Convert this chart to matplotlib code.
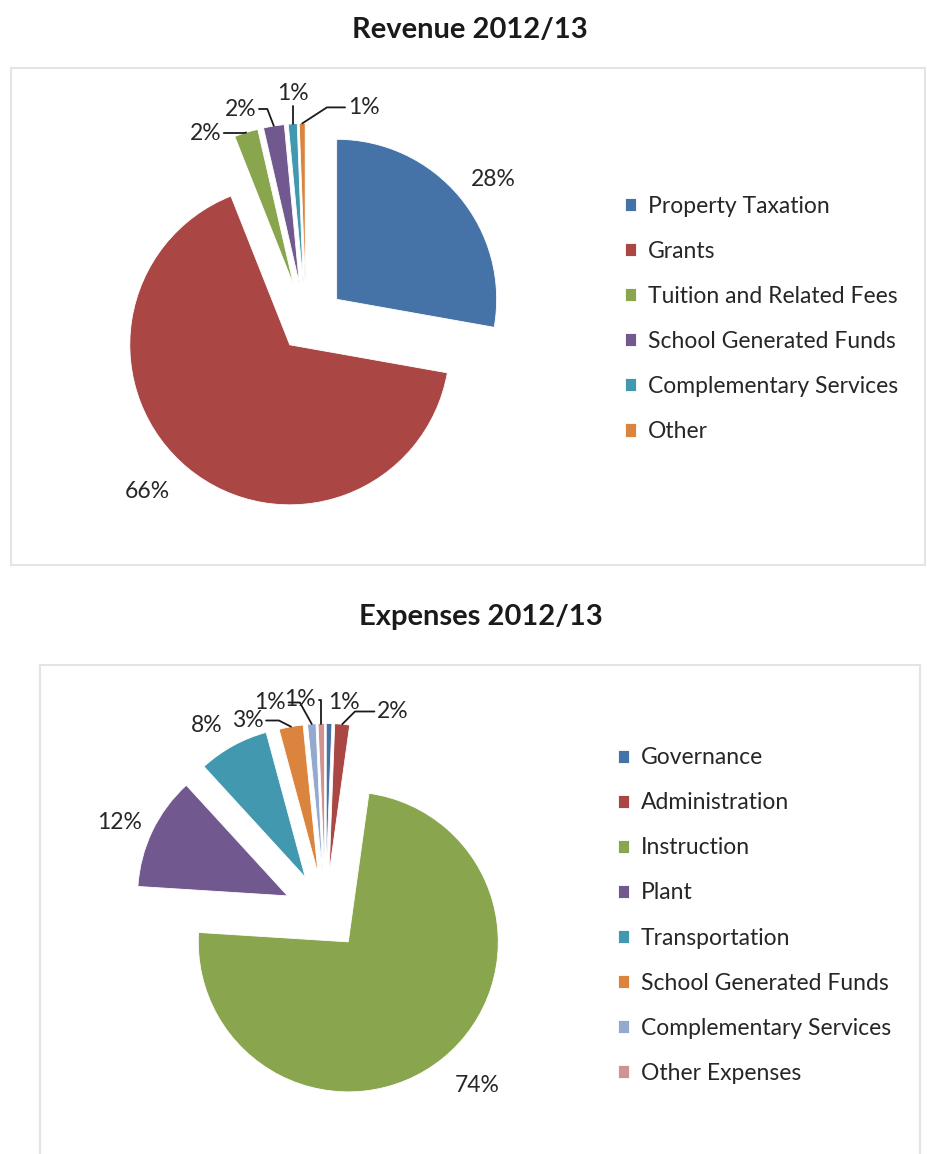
import numpy as np
import matplotlib.pyplot as plt
from matplotlib.patches import Rectangle

plt.rcParams['font.family'] = ['Lato', 'DejaVu Sans']

# Revenue 2012/13 (share of total, %)
rev_labels = ['Property Taxation', 'Grants', 'Tuition and Related Fees',
              'School Generated Funds', 'Complementary Services', 'Other']
rev_values = [27.8, 66.2, 2.4, 2.1, 0.9, 0.6]
rev_colors = ['#4572A7', '#AA4643', '#89A54E', '#71588F', '#4198AF', '#DB843D']

# Expenses 2012/13 (share of total, %)
exp_labels = ['Governance', 'Administration', 'Instruction', 'Plant',
              'Transportation', 'School Generated Funds',
              'Complementary Services', 'Other Expenses']
exp_values = [0.6, 1.6, 73.8, 12.2, 7.6, 2.6, 0.9, 0.7]
exp_colors = ['#4572A7', '#AA4643', '#89A54E', '#71588F', '#4198AF',
              '#DB843D', '#93A9CF', '#D19392']

# layout: explode, label spots (in pie radii from centre), leader angle
rev_explode = [0.25, 0.16, 0.26, 0.26, 0.26, 0.26]
rev_label_xy = [(1.17, 0.91), (-0.99, -1.04), (-0.63, 1.20),
                (-0.41, 1.35), (-0.08, 1.45), (0.36, 1.36)]
rev_leader = [None, None, 17, 111, 90, 33]

exp_explode = [0.27, 0.27, 0.24, 0.28, 0.28, 0.27, 0.27, 0.27]
exp_label_xy = [(0.12, 1.41), (0.45, 1.35), (1.01, -1.14), (-1.37, 0.61),
                (-0.79, 1.26), (-0.52, 1.29), (-0.37, 1.41), (-0.17, 1.43)]
exp_leader = [None, 45, None, None, None, -27, -61, 90]

W, H = 927, 1154
fig = plt.figure(figsize=(W / 100, H / 100), dpi=100)

PCT_SIZE = 16.5
LEG_SIZE = 16.5


def px_axes(cx, cy, r, half=300):
    # square axes centred on pixel (cx, cy), one data unit = r pixels
    ax = fig.add_axes([(cx - half) / W, (H - cy - half) / H,
                       2 * half / W, 2 * half / H])
    return ax, half / r


def draw_pie(ax, lim, values, colors, explode, label_xy, leader):
    wedges, _ = ax.pie(values, colors=colors, explode=explode, startangle=90,
                       counterclock=False, radius=1,
                       wedgeprops=dict(edgecolor='white', linewidth=0.6))
    ax.set_xlim(-lim, lim)
    ax.set_ylim(-lim, lim)
    ax.set_aspect('equal')
    ax.axis('off')
    for w, v, xy, ab in zip(wedges, values, label_xy, leader):
        txt = f"{round(v)}%"
        if ab is None:
            ax.text(xy[0], xy[1], txt, ha='center', va='center',
                    fontsize=PCT_SIZE, color='#262626')
            continue
        mid = np.deg2rad((w.theta1 + w.theta2) / 2)
        tip = (w.center[0] + np.cos(mid), w.center[1] + np.sin(mid))
        ax.annotate(txt, xy=tip, xytext=xy, ha='center', va='center',
                    fontsize=PCT_SIZE, color='#262626',
                    arrowprops=dict(arrowstyle='-', color='#1a1a1a', lw=1.3,
                                    shrinkA=0, shrinkB=0,
                                    connectionstyle=f'angle,angleA=0,angleB={ab},rad=0'))
    return wedges


def add_legend(wedges, labels, x, y):
    fig.legend(wedges, labels, loc='center left',
               bbox_to_anchor=(x / W, 1 - y / H), frameon=False,
               fontsize=LEG_SIZE, handlelength=0.5, handleheight=0.5,
               handletextpad=0.5, labelspacing=1.05, borderpad=0,
               borderaxespad=0, labelcolor='#262626')


# frames
fig.add_artist(Rectangle((11 / W, 1 - 565 / H), (925 - 11) / W, (565 - 68) / H,
                         transform=fig.transFigure, fill=False,
                         edgecolor='#e4e4e4', lw=1.5))
fig.add_artist(Rectangle((40 / W, 1 - 1170 / H), (920 - 40) / W, (1170 - 665) / H,
                         transform=fig.transFigure, fill=False,
                         edgecolor='#e4e4e4', lw=1.5))

# Revenue
ax1, lim1 = px_axes(306, 325, 160)
w1 = draw_pie(ax1, lim1, rev_values, rev_colors, rev_explode,
              rev_label_xy, rev_leader)
fig.text(470 / W, 1 - 30 / H, 'Revenue 2012/13', ha='center', va='center',
         fontsize=21, fontweight='bold', color='#1a1a1a')
add_legend(w1, rev_labels, 625, 319)

# Expenses
ax2, lim2 = px_axes(325.5, 914, 150)
w2 = draw_pie(ax2, lim2, exp_values, exp_colors, exp_explode,
              exp_label_xy, exp_leader)
fig.text(481 / W, 1 - 617 / H, 'Expenses 2012/13', ha='center', va='center',
         fontsize=21, fontweight='bold', color='#1a1a1a')
add_legend(w2, exp_labels, 618, 915.5)

fig.savefig('out.png', dpi=100)
